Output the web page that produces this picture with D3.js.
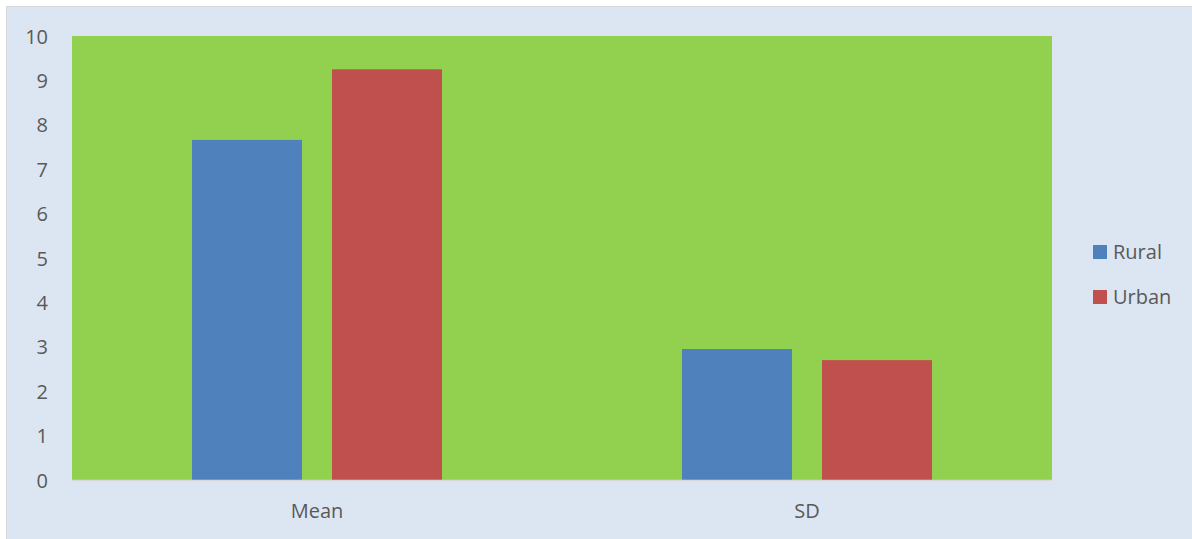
<!DOCTYPE html>
<html><head><meta charset="utf-8">
<script src="https://cdn.jsdelivr.net/npm/d3@7"></script>
<style>html,body{margin:0;padding:0;background:#fff;}svg{display:block;}</style>
</head><body>
<svg id="c" width="1192" height="539"></svg>
<script>
const categories = ["Mean", "SD"];
const seriesNames = ["Rural", "Urban"];
const rural = [7.66, 2.95];
const urban = [9.25, 2.70];
const yTicks = [0,1,2,3,4,5,6,7,8,9,10];
const colors = {Rural: "#4f81bd", Urban: "#c0504d"};

(function(){
const svg = d3.select("#c");
const font = "'Open Sans', Lato, sans-serif";
const fs = 20;
svg.append("rect").attr("x",0).attr("y",0).attr("width",1192).attr("height",539).attr("fill","#ffffff");
svg.append("rect").attr("x",6.5).attr("y",6.5).attr("width",1190).attr("height",540)
  .attr("fill","#dce6f2").attr("stroke","#d9d9d9").attr("stroke-width",1);

const pL=72, pR=1052, pT=36, pB=480;
const x0 = d3.scaleBand().domain(categories).range([pL,pR]).padding(0);
const x1 = d3.scaleBand().domain(seriesNames).range([0,x0.bandwidth()])
  .paddingInner(30/140).paddingOuter(0.857);
const y = d3.scaleLinear().domain([0,10]).range([pB,pT]);

svg.append("rect").attr("x",pL).attr("y",pT).attr("width",pR-pL).attr("height",pB-pT).attr("fill","#92d050");

const data = categories.map((c,i)=>({cat:c, vals:[{s:"Rural",v:rural[i]},{s:"Urban",v:urban[i]}]}));
const g = svg.append("g");
g.selectAll("g").data(data).join("g")
  .attr("transform", d=>`translate(${x0(d.cat)},0)`)
  .selectAll("rect").data(d=>d.vals).join("rect")
  .attr("x", d=>x1(d.s)).attr("width", x1.bandwidth())
  .attr("y", d=>y(d.v)).attr("height", d=>pB-y(d.v))
  .attr("fill", d=>colors[d.s]);

svg.append("line").attr("x1",pL).attr("x2",pR).attr("y1",pB+0.5).attr("y2",pB+0.5)
  .attr("stroke","#d9d9d9").attr("stroke-width",1.5);

const yAxis = d3.axisLeft(y).tickValues(yTicks).tickSize(0).tickPadding(0);
const ya = svg.append("g").attr("transform",`translate(48,0)`).call(yAxis);
ya.select(".domain").remove();
ya.selectAll("text").attr("font-family",font).attr("font-size",fs).attr("fill","#595959").attr("dy","0.35em");

const xAxis = d3.axisBottom(x0).tickSize(0).tickPadding(0);
const xa = svg.append("g").attr("transform",`translate(0,${pB})`).call(xAxis);
xa.select(".domain").remove();
xa.selectAll("text").attr("font-family",font).attr("font-size",fs).attr("fill","#595959").attr("y",31).attr("dy","0.35em");

const leg = svg.append("g");
seriesNames.forEach((s,i)=>{
  const yy = 245 + i*45;
  leg.append("rect").attr("x",1093).attr("y",yy).attr("width",14).attr("height",14).attr("fill",colors[s]);
  leg.append("text").attr("x",1113).attr("y",yy+7).attr("dy","0.35em")
    .attr("font-family",font).attr("font-size",fs).attr("fill","#595959").text(s);
});
})();
</script>
</body></html>
